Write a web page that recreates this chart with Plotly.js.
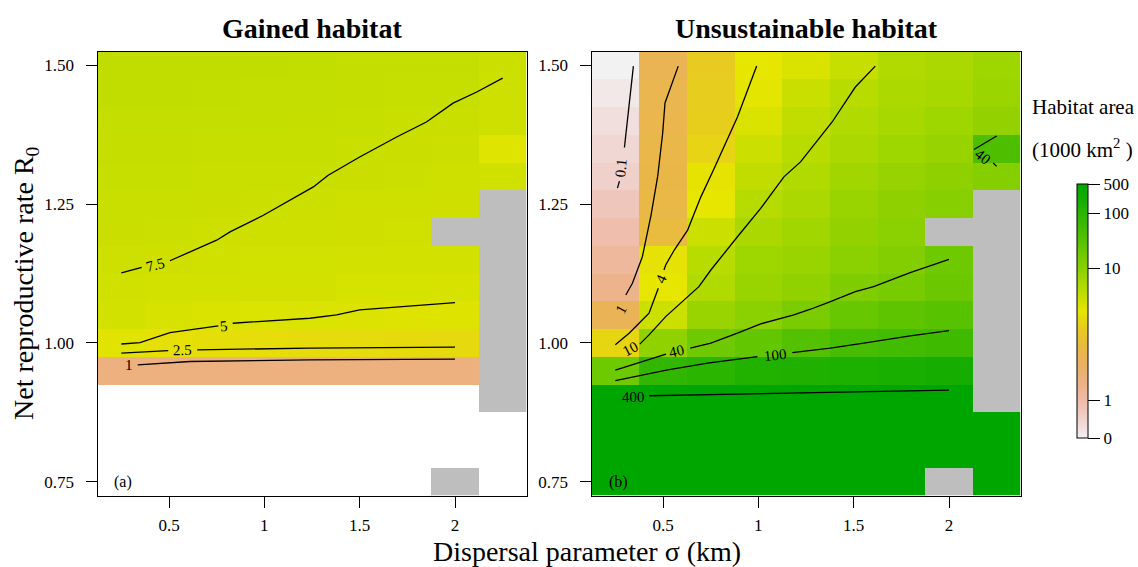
<!DOCTYPE html>
<html><head><meta charset="utf-8">
<script src="https://cdn.plot.ly/plotly-3.0.1.min.js"></script>
<style>html,body{margin:0;padding:0;background:#fff}#chart{width:1138px;height:567px}</style>
</head><body><div id="chart"></div>
<script>
// ---------- data ----------
const sigma = [0.25, 0.5, 0.75, 1, 1.25, 1.5, 1.75, 2, 2.25];
// R0 rows, top to bottom
const R0 = [1.5, 1.45, 1.4, 1.35, 1.3, 1.25, 1.2, 1.15, 1.1, 1.05, 1.0, 0.95, 0.9, 0.85, 0.8, 0.75];

// Gained habitat (1000 km^2); null = none gained
const gained = [
  [6.3, 6.3, 6.3, 6.3, 6.25, 6.2, 6.2, 6.2, 5.8],
  [6.3, 6.3, 6.25, 6.2, 6.2, 6.1, 6.05, 6.05, 5.7],
  [6.2, 6.2, 6.2, 6.15, 6.1, 6.0, 5.95, 5.9, 5.7],
  [6.1, 6.1, 6.05, 6.0, 6.0, 5.9, 5.85, 5.8, 5.0],
  [6.0, 6.0, 5.95, 5.9, 5.9, 5.85, 5.8, 5.75, 5.6],
  [5.95, 5.9, 5.85, 5.8, 5.8, 5.75, 5.7, 5.65, null],
  [5.85, 5.8, 5.75, 5.7, 5.7, 5.65, 5.6, null, null],
  [5.75, 5.65, 5.6, 5.55, 5.55, 5.5, 5.5, 5.45, null],
  [5.6, 5.5, 5.45, 5.4, 5.4, 5.35, 5.35, 5.3, null],
  [5.5, 5.3, 5.2, 5.15, 5.15, 5.1, 5.05, 5.05, null],
  [4.95, 4.45, 4.35, 4.3, 4.25, 4.25, 4.2, 4.15, null],
  [1.45, 1.45, 1.44, 1.44, 1.44, 1.44, 1.44, 1.44, null],
  [null, null, null, null, null, null, null, null, null],
  [null, null, null, null, null, null, null, null, null],
  [null, null, null, null, null, null, null, null, null],
  [null, null, null, null, null, null, null, null, null]
];

// Unsustainable habitat (1000 km^2)
const unsustainable = [
  [0.0, 2.14, 3.48, 4.75, 5.2, 6.05, 7.15, 7.6, 8.4],
  [0.14, 2.24, 3.56, 4.83, 5.9, 6.7, 7.5, 7.8, 8.6],
  [0.27, 2.29, 3.64, 5.2, 6.3, 7.15, 7.8, 8.4, 9.2],
  [0.41, 2.34, 3.9, 5.8, 6.7, 7.6, 8.4, 9.0, 40],
  [0.54, 2.39, 4.6, 6.3, 7.15, 8.2, 9.0, 9.6, 11.3],
  [0.74, 2.44, 4.75, 6.85, 7.6, 8.75, 9.6, 10.8, null],
  [0.95, 2.6, 5.8, 7.6, 8.2, 9.2, 9.9, null, null],
  [1.1, 4.54, 6.7, 8.4, 8.75, 9.9, 11.9, 18, null],
  [1.28, 4.75, 7.15, 8.8, 9.4, 12.6, 15, 20, null],
  [2.1, 5.8, 8.75, 9.9, 14, 21.8, 26.4, 32, null],
  [4.0, 9.5, 18, 24.5, 34, 47, 52, 57, null],
  [19, 80, 100, 135, 140, 160, 185, 216, null],
  [500, 500, 500, 500, 500, 500, 500, 500, null],
  [500, 500, 500, 500, 500, 500, 500, 500, 500],
  [500, 500, 500, 500, 500, 500, 500, 500, 500],
  [500, 500, 500, 500, 500, 500, 500, null, 500]
];

// cells without results (grey) [sigma, R0]
const missingCells = [[2.25,1.25],[2.25,1.2],[2,1.2],[2.25,1.15],[2.25,1.1],[2.25,1.05],
  [2.25,1.0],[2.25,0.95],[2.25,0.9],[2,0.75]];

// colour bar labels and their position along the bar
const barLabels = ['0', '1', '10', '100', '500'];
const barValues = [0, 1, 10, 100, 500];
const barPos = [0, 0.1479, 0.6685, 0.885, 1];

// contour lines, panel (a)
const a75x = [0.25,0.357,null,0.505,0.75,0.82,0.995,1.257,1.335,1.5,1.694,1.85,1.99,2.114,2.25];
const a75y = [1.126,1.136,null,1.148,1.185,1.2,1.23,1.281,1.302,1.335,1.371,1.398,1.432,1.452,1.477];
const a5x = [0.25,0.348,0.505,0.759,null,0.834,1.239,1.379,1.5,2.0];
const a5y = [0.998,1.0005,1.0185,1.0306,null,1.0354,1.0444,1.0504,1.0594,1.0725];
const a25x = [0.25,0.496,null,0.648,1.239,2.0];
const a25y = [0.9815,0.9862,null,0.9874,0.9905,0.9923];
const a1x = [0.336,0.61,1.239,2.0];
const a1y = [0.9604,0.9664,0.9694,0.9707];
const aLabText = ['7.5','5','2.5','1'];
const aLabX = [0.427,0.791,0.573,0.29];
const aLabY = [1.140,1.030,0.9865,0.9595];
const aLabAng = [-14,-6,-1,0];

// contour lines, panel (b)
const b01x = [0.3447,0.2977,null,0.2716,0.2611];
const b01y = [1.4987,1.352,null,1.2914,1.2788];
const b1x = [0.58,0.5105,0.4984,0.4723,0.4373,0.3918,0.3395,0.305];
const b1y = [1.4987,1.4322,1.3782,1.3004,1.2302,1.1552,1.1074,1.0863];
const b4x = [0.9914,0.8905,0.7682,0.6986,0.6291,0.5591,0.5141,0.5052,null,0.4754,0.4268,0.3745,0.3223,0.25];
const b4y = [1.4987,1.407,1.3142,1.2631,1.2032,1.1673,1.1403,1.1313,null,1.0984,1.0534,1.0354,1.0174,0.9965];
const b10x = [1.6134,1.5089,1.3871,1.2737,1.2214,1.1341,1.0123,0.8905,0.8204,0.7509,0.6882,0.6009,0.5141,0.4268,0.3782];
const b10y = [1.4987,1.461,1.398,1.3502,1.3261,1.2991,1.2423,1.1912,1.1613,1.1313,1.1013,1.0743,1.0473,1.0144,0.9977];
const b40x = [0.25,0.5157,null,0.6427,0.7509,0.8905,1.0123,1.1864,1.2737,1.3782,1.5089,1.6045,1.7964,2.0,null,2.25,2.131,null,2.232,2.25];
const b40y = [0.951,0.9797,null,0.9905,0.9995,1.0174,1.0342,1.0504,1.0606,1.0743,1.0923,1.1013,1.1264,1.1505,null,1.3728,1.3484,null,1.324,1.318];
const b100x = [0.25,0.5246,0.7337,0.995,null,1.178,1.2737,1.3782,1.57,1.7964,2.0];
const b100y = [0.932,0.9514,0.9635,0.9754,null,0.9826,0.9862,0.9905,1.0005,1.0126,1.022];
const b400x = [0.4284,1.2737,2.0];
const b400y = [0.9047,0.9106,0.915];
const bLabText = ['0.1','1','4','10','40','40','100','400'];
const bLabX = [0.2805,0.2805,0.4922,0.3275,0.573,2.178,1.09,0.3432];
const bLabY = [1.3147,1.0612,1.1142,0.9883,0.9856,1.3345,0.978,0.9029];
const bLabAng = [-84,-62,-65,-28,-13,38,-6,-1];

// ---------- helpers ----------
function toBar(v) {           // value -> position on colour bar (piecewise, as in reference)
  if (v === null) return null;
  for (let i = 1; i < barValues.length; i++) {
    if (v <= barValues[i] || i === barValues.length - 1) {
      const a = barValues[i-1], b = barValues[i];
      let f;
      if (i === 1) f = (v - a) / (b - a);
      else f = (Math.log(v) - Math.log(a)) / (Math.log(b) - Math.log(a));
      f = Math.max(0, Math.min(1, f));
      return barPos[i-1] + f * (barPos[i] - barPos[i-1]);
    }
  }
}
function hsv(h, s, v) {
  const c = v * s, hp = h / 60, x = c * (1 - Math.abs(hp % 2 - 1));
  let r = 0, g = 0, b = 0;
  if (hp < 1) { r = c; g = x; } else if (hp < 2) { r = x; g = c; } else { g = c; b = x; }
  const m = v - c;
  const t = u => Math.round((u + m) * 255);
  return 'rgb(' + t(r) + ',' + t(g) + ',' + t(b) + ')';
}
function terrain(p) {         // R terrain.colors, p=1 green ... p=0 light grey
  if (p >= 0.5) return hsv(120 * p, 1, 0.65 + 0.5 * (1 - p));
  return hsv(120 * p, 2 * p, 0.9 + 0.05 * (1 - 2 * p));
}
const scale = [];
for (let i = 0; i <= 60; i++) { const p = i / 60; scale.push([p, terrain(p)]); }

const yAsc = R0.slice().reverse();
const zA = gained.slice().reverse().map(r => r.map(toBar));
const zB = unsustainable.slice().reverse().map(r => r.map(toBar));
const zMiss = yAsc.map(y => sigma.map(x =>
  missingCells.some(c => Math.abs(c[0]-x) < 1e-6 && Math.abs(c[1]-y) < 1e-6) ? 1 : null));

const serif = 'Liberation Serif, Times New Roman, serif';
const traces = [];
function heat(z, xa, ya, show) {
  const t = {type: 'heatmap', x: sigma, y: yAsc, z: z, xaxis: xa, yaxis: ya,
    colorscale: scale, zmin: 0, zmax: 1, hoverinfo: 'skip', showscale: !!show};
  if (show) t.colorbar = {
    x: 1077/1138, xanchor: 'left', xpad: 0, y: 1 - 311/567, yanchor: 'middle', ypad: 0,
    len: 254, lenmode: 'pixels', thickness: 11, outlinewidth: 1, outlinecolor: '#000',
    tickvals: barPos, ticktext: barLabels, ticks: 'outside', ticklen: 12, tickwidth: 1,
    tickcolor: '#000', tickfont: {family: serif, size: 17, color: '#000'}
  };
  return t;
}
traces.push(heat(zA, 'x', 'y', false));
traces.push(heat(zB, 'x2', 'y2', true));
[['x','y'],['x2','y2']].forEach(a => traces.push({type: 'heatmap', x: sigma, y: yAsc, z: zMiss,
  xaxis: a[0], yaxis: a[1], colorscale: [[0,'#bebebe'],[1,'#bebebe']], showscale: false, hoverinfo: 'skip'}));

function line(x, y, xa, ya) {
  traces.push({type: 'scatter', mode: 'lines', x: x, y: y, xaxis: xa, yaxis: ya,
    line: {color: '#000', width: 1.3}, connectgaps: false, hoverinfo: 'skip', showlegend: false});
}
line(a75x, a75y, 'x', 'y'); line(a5x, a5y, 'x', 'y'); line(a25x, a25y, 'x', 'y'); line(a1x, a1y, 'x', 'y');
line(b01x, b01y, 'x2', 'y2'); line(b1x, b1y, 'x2', 'y2'); line(b4x, b4y, 'x2', 'y2');
line(b10x, b10y, 'x2', 'y2'); line(b40x, b40y, 'x2', 'y2'); line(b100x, b100y, 'x2', 'y2');
line(b400x, b400y, 'x2', 'y2');

const ann = [];
aLabText.forEach((t, i) => ann.push({text: t, x: aLabX[i], y: aLabY[i], xref: 'x', yref: 'y',
  showarrow: false, textangle: aLabAng[i], font: {family: serif, size: 15, color: '#000'}}));
bLabText.forEach((t, i) => ann.push({text: t, x: bLabX[i], y: bLabY[i], xref: 'x2', yref: 'y2',
  showarrow: false, textangle: bLabAng[i], font: {family: serif, size: 15, color: '#000'}}));
function pa(text, px, py, size, extra) {
  ann.push(Object.assign({text: text, x: px / 1138, y: 1 - py / 567, xref: 'paper', yref: 'paper',
    showarrow: false, xanchor: 'center', yanchor: 'middle',
    font: {family: serif, size: size, color: '#000'}}, extra || {}));
}
pa('<b>Gained habitat</b>', 312, 28, 28);
pa('<b>Unsustainable habitat</b>', 806, 28, 28);
pa('Dispersal parameter σ (km)', 587, 551, 28);
pa('Net reproductive rate R<sub>0</sub>', 25, 283, 28, {textangle: -90});
pa('Habitat area', 1030, 107, 21, {xanchor: 'left'});
pa('(1000 km<sup>2</sup> )', 1030, 149, 21, {xanchor: 'left'});
pa('(a)', 112, 482, 16, {xanchor: 'left'});
pa('(b)', 607, 482, 16, {xanchor: 'left'});

function xax(dom, anchor) {
  return {domain: dom, anchor: anchor, range: [0.125, 2.375], tickvals: [0.5, 1, 1.5, 2],
    ticktext: ['0.5', '1', '1.5', '2'], ticks: 'outside', ticklen: 11, tickwidth: 1, tickcolor: '#000',
    ticklabelstandoff: 3, showline: true, mirror: true, linecolor: '#000', linewidth: 1,
    showgrid: false, zeroline: false, tickfont: {family: serif, size: 17, color: '#000'}, fixedrange: true};
}
function yax(anchor) {
  return {domain: [1 - 495.5/567, 1 - 51.5/567], anchor: anchor, range: [0.725, 1.525],
    tickvals: [0.75, 1, 1.25, 1.5], ticktext: ['0.75', '1.00', '1.25', '1.50'], ticks: 'outside',
    ticklen: 11, tickwidth: 1, tickcolor: '#000', ticklabelstandoff: 8, showline: true, mirror: true,
    linecolor: '#000', linewidth: 1, showgrid: false, zeroline: false,
    tickfont: {family: serif, size: 17, color: '#000'}, fixedrange: true};
}
const layout = {
  width: 1138, height: 567, margin: {l: 0, r: 0, t: 0, b: 0},
  paper_bgcolor: '#fff', plot_bgcolor: '#fff', showlegend: false,
  xaxis: xax([97.5/1138, 526.5/1138], 'y'), yaxis: yax('x'),
  xaxis2: xax([591.5/1138, 1020.5/1138], 'y2'), yaxis2: yax('x2'),
  annotations: ann, font: {family: serif, color: '#000'}
};
Plotly.newPlot('chart', traces, layout, {displayModeBar: false, staticPlot: true});
</script></body></html>
